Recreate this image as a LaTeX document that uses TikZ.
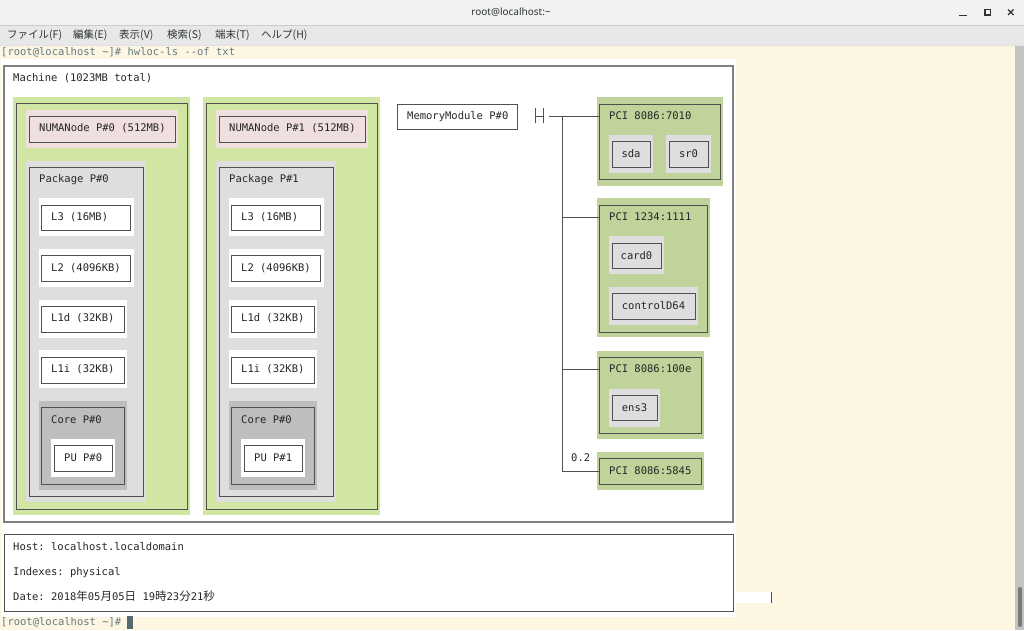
\documentclass[tikz,border=0pt]{standalone}
\usepackage{fontspec}
\setmonofont{DejaVu Sans Mono}
\newfontfamily\jpfont{Noto Sans CJK JP}
\newfontfamily\uifont{Noto Sans}
\usepackage{tikz}

\definecolor{termbg}{HTML}{FDF6E3}
\definecolor{termfg}{HTML}{657B83}
\definecolor{titlebg}{HTML}{F2F2F2}
\definecolor{menubg}{HTML}{E8E8E8}
\definecolor{uitext}{HTML}{2E3436}
\definecolor{boxline}{HTML}{505050}
\definecolor{machline}{HTML}{808080}
\definecolor{numagreen}{HTML}{D2E6A4}
\definecolor{pcigreen}{HTML}{BFD39A}
\definecolor{numapink}{HTML}{EFDFDE}
\definecolor{pkggray}{HTML}{DEDEDE}
\definecolor{coregray}{HTML}{BEBEBE}
\definecolor{devgray}{HTML}{DEDEDE}

\newcommand{\hwfont}{\fontsize{10.5}{12}\selectfont\ttfamily}
\newcommand{\cjk}[1]{{\jpfont\fontsize{11.5}{12}\selectfont #1}}
% object = coloured margin + framed box
\newcommand{\hwobj}[3]{\fill[#1] #2; \filldraw[frame, fill=#1] #3;}

\tikzset{
  lbl/.style={anchor=west, inner sep=0pt, text height=7.6pt, text depth=0pt, font=\hwfont, text=black!85},
  clbl/.style={lbl, anchor=center},
  frame/.style={draw=boxline, line width=0.95pt},
  bus/.style={draw=boxline, line width=0.85pt},
  menu/.style={anchor=west, inner sep=0pt, font=\jpfont\fontsize{10.5}{12}\selectfont, text=uitext},
}

\begin{document}
\begin{tikzpicture}[x=1pt, y=-1pt]
    \useasboundingbox (0,0) rectangle (1024,630);

    % window title bar and menu
    \fill[titlebg] (0,0) rectangle (1024,25);
    \fill[menubg] (0,25) rectangle (1024,45);
    \draw[black!20, line width=1pt] (0,25) -- (1024,25);
    \draw[black!12, line width=1pt] (0,45) -- (1024,45);
    \node[font=\uifont\bfseries\fontsize{10}{12}\selectfont, text=uitext] (title) at (511,12) {root@localhost:\textasciitilde};
    \draw[uitext, line width=1.3pt] (959,15.5) -- (967,15.5);
    \draw[uitext, line width=1.3pt] (985,9.5) rectangle (990.5,15);
    \draw[uitext, line width=1.3pt] (1008,9.5) -- (1013.5,15) (1008,15) -- (1013.5,9.5);
    \node[menu] (mfile) at (7,35) {ファイル(F)};
    \node[menu] (medit) at (73,35) {編集(E)};
    \node[menu] (mview) at (119,35) {表示(V)};
    \node[menu] (mfind) at (167,35) {検索(S)};
    \node[menu] (mterm) at (215,35) {端末(T)};
    \node[menu] (mhelp) at (261,35) {ヘルプ(H)};

    % terminal
    \fill[termbg] (0,45.5) rectangle (1015,630);
    \fill[black!23] (1015,45.5) rectangle (1024,630);
    \fill[black!52, rounded corners=2pt] (1018,587) rectangle (1022,627);
    \node[lbl, text=termfg] (cmd) at (1,52) {[root@localhost \textasciitilde]\# hwloc-ls --of txt};
    \fill[white] (1,59) rectangle (736,617);
    \fill[white] (733,592) rectangle (771,603);
    \draw[black!70, line width=1pt] (771,592) -- (771,603);
    \node[lbl, text=termfg] (prompt) at (1,622) {[root@localhost \textasciitilde]\#};
    \fill[termfg!85!black] (127,616) rectangle (133,629);

    % Machine
    \draw[draw=machline, line width=1.1pt] (4,66) rectangle (733,522);
    \node[lbl] (machine) at (13,78) {Machine (1023MB total)};

    % NUMA nodes with their package
    \foreach \n/\s in {0/0,1/190} {
    \begin{scope}[xshift=\s pt]
        \hwobj{numagreen}{(13,97) rectangle (190,515)}{(16,103) rectangle (187,509)}
        \hwobj{numapink}{(26,110) rectangle (178,148)}{(29,116) rectangle (175,142)}
        \node[lbl] (numa\n) at (39,128) {NUMANode P\#\n{} (512MB)};
        \hwobj{pkggray}{(26,161) rectangle (146,502)}{(29,167) rectangle (143,496)}
        \node[lbl] (pkg\n) at (39,179) {Package P\#\n};
        \hwobj{white}{(39,198) rectangle (134,236)}{(41,205) rectangle (130,230)}
        \node[lbl] (lthree\n) at (51,217) {L3 (16MB)};
        \hwobj{white}{(39,249) rectangle (134,287)}{(41,255) rectangle (130,281)}
        \node[lbl] (ltwo\n) at (51,268) {L2 (4096KB)};
        \hwobj{white}{(39,300) rectangle (127,338)}{(41,306) rectangle (124,332)}
        \node[lbl] (lod\n) at (51,318) {L1d (32KB)};
        \hwobj{white}{(39,350) rectangle (127,388)}{(41,357) rectangle (124,383)}
        \node[lbl] (loi\n) at (51,369) {L1i (32KB)};
        \hwobj{coregray}{(39,401) rectangle (127,490)}{(41,407) rectangle (124,484)}
        \node[lbl] (core\n) at (51,420) {Core P\#0};
        \hwobj{white}{(51,439) rectangle (115,477)}{(54,445) rectangle (112,471)}
        \node[lbl] (pu\n) at (64,458) {PU P\#\n};
    \end{scope}
    }

    % memory module
    \filldraw[frame, fill=white] (397,104) rectangle (517,129);
    \node[lbl] (mem) at (407,116) {MemoryModule P\#0};

    % PCI devices
    \hwobj{pcigreen}{(597,97) rectangle (723,186)}{(599,104) rectangle (720,179)}
    \node[lbl] (pcia) at (609,116) {PCI 8086:7010};
    \hwobj{devgray}{(609,135) rectangle (653,173)}{(612,141) rectangle (650,167)}
    \node[clbl] (sda) at (631,154) {sda};
    \hwobj{devgray}{(666,135) rectangle (711,173)}{(669,141) rectangle (708,167)}
    \node[clbl] (srzero) at (688.5,154) {sr0};

    \hwobj{pcigreen}{(597,198) rectangle (710,337)}{(599,205) rectangle (707,332)}
    \node[lbl] (pcib) at (609,217) {PCI 1234:1111};
    \hwobj{devgray}{(609,236) rectangle (664,274)}{(612,243) rectangle (661,268)}
    \node[clbl] (card) at (636.5,255.5) {card0};
    \hwobj{devgray}{(609,287) rectangle (698,325)}{(612,293) rectangle (695,319)}
    \node[clbl] (ctrl) at (653.5,306) {controlD64};

    \hwobj{pcigreen}{(597,351) rectangle (704,439)}{(599,357) rectangle (701,433)}
    \node[lbl] (pcic) at (609,369) {PCI 8086:100e};
    \hwobj{devgray}{(609,389) rectangle (660,427)}{(612,395) rectangle (657,420)}
    \node[clbl] (ens) at (634.5,407.5) {ens3};

    \hwobj{pcigreen}{(597,452) rectangle (704,490)}{(599,458) rectangle (701,484)}
    \node[lbl] (pcid) at (609,471) {PCI 8086:5845};

    % host bridge and bus
    \draw[boxline, line width=0.8pt] (535.5,108) -- (535.5,123) (543.5,108) -- (543.5,123) (535.5,116) -- (543.5,116);
    \coordinate (bridge) at (549,116);
    \coordinate (tap) at (562,116);
    \coordinate (busa) at (599,116);
    \coordinate (busb) at (599,217);
    \coordinate (busc) at (599,369);
    \coordinate (busd) at (599,471);
    \draw[bus] (bridge) -- (busa);
    \draw[bus] (tap) |- (busd);
    \draw[bus] (tap |- busb) -- (busb);
    \draw[bus] (tap |- busc) -- (busc);
    \node[lbl] (speed) at (571,458) {0.2};

    % host info
    \draw[draw=boxline, line width=1pt] (4,534) rectangle (733,611);
    \node[lbl] (host) at (13,547) {Host: localhost.localdomain};
    \node[lbl] (idx) at (13,572) {Indexes: physical};
    \node[lbl] (date) at (13,597) {Date: 2018\cjk{年}05\cjk{月}05\cjk{日} 19\cjk{時}23\cjk{分}21\cjk{秒}};
\end{tikzpicture}
\end{document}
